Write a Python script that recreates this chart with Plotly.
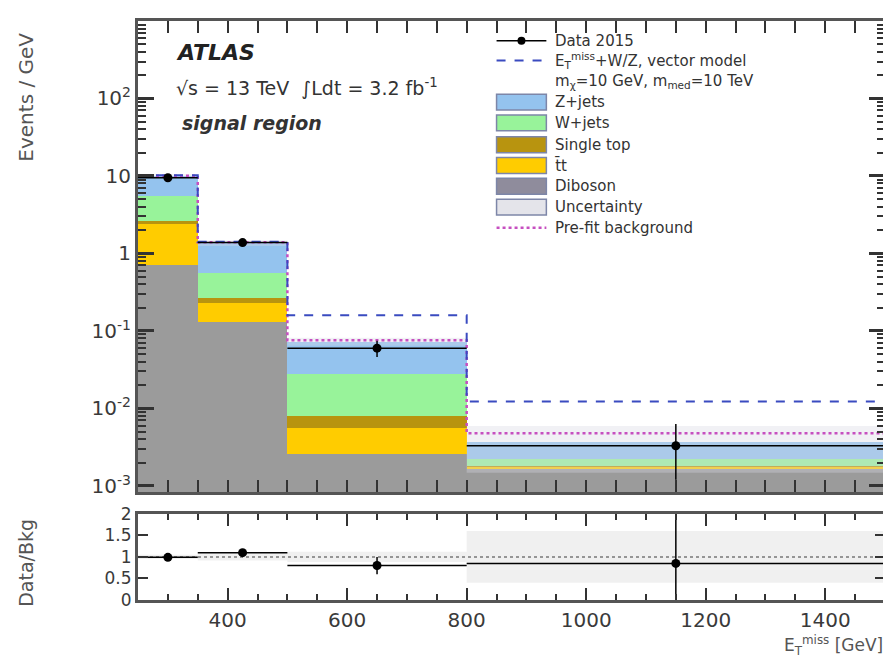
import plotly.graph_objects as go

# ---------------- data ----------------
bin_edges = [250, 350, 500, 800, 1500]
diboson = [0.70, 0.13, 0.0026, 0.00170]
ttbar = [1.70, 0.10, 0.0030, 0.00008]
single_top = [0.25, 0.04, 0.0025, 0.00005]
w_jets = [2.85, 0.29, 0.0199, 0.00037]
z_jets = [4.50, 0.80, 0.0450, 0.00150]
bkg_unc_rel = [0.05, 0.08, 0.12, 0.60]
data_vals = [9.5, 1.38, 0.060, 0.0033]
data_err_up = [0.31, 0.10, 0.015, 0.0030]
data_err_dn = [0.31, 0.10, 0.014, 0.0021]
signal_vals = [10.2, 1.42, 0.160, 0.0123]
prefit_vals = [10.1, 1.40, 0.076, 0.0048]
ratio_vals = [0.99, 1.10, 0.80, 0.85]
ratio_err = [0.03, 0.07, 0.20, 1.30]
main_tickvals = [1e-3, 1e-2, 1e-1, 1, 10, 100]
main_ticktext = ["10<sup>-3</sup>", "10<sup>-2</sup>", "10<sup>-1</sup>", "1", "10", "10<sup>2</sup>"]
ratio_tickvals = [0, 0.5, 1, 1.5, 2]
ratio_ticktext = ["0", "0.5", "1", "1.5", "2"]
x_tickvals = [400, 600, 800, 1000, 1200, 1400]
minor_log_ticks = [m * 10.0 ** e for e in range(-3, 3) for m in range(2, 10)]

colors = {
    "Diboson": "#9b9b9b",
    "tt": "#ffcc00",
    "Single top": "#b8940f",
    "W+jets": "#98f39a",
    "Z+jets": "#94c3ee",
}

centers = [(a + b) / 2 for a, b in zip(bin_edges[:-1], bin_edges[1:])]
widths = [b - a for a, b in zip(bin_edges[:-1], bin_edges[1:])]
half = [w / 2 for w in widths]

def step(vals):
    return list(vals) + [vals[-1]]

total = [sum(v) for v in zip(diboson, ttbar, single_top, w_jets, z_jets)]
unc_lo = [t * (1 - r) for t, r in zip(total, bkg_unc_rel)]
unc_hi = [t * (1 + r) for t, r in zip(total, bkg_unc_rel)]

fig = go.Figure()

for name, vals, col in [("Diboson", diboson, colors["Diboson"]),
                        ("tt", ttbar, colors["tt"]),
                        ("Single top", single_top, colors["Single top"]),
                        ("W+jets", w_jets, colors["W+jets"]),
                        ("Z+jets", z_jets, colors["Z+jets"])]:
    fig.add_trace(go.Bar(x=centers, y=vals, width=widths, marker=dict(color=col, line=dict(width=0)),
                         showlegend=False, xaxis="x", yaxis="y"))

fig.add_trace(go.Scatter(x=bin_edges, y=step(unc_lo), mode="lines", line=dict(width=0, shape="hv"),
                         showlegend=False, xaxis="x", yaxis="y"))
fig.add_trace(go.Scatter(x=bin_edges, y=step(unc_hi), mode="lines", line=dict(width=0, shape="hv"),
                         fill="tonexty", fillcolor="rgba(215,215,225,0.35)", showlegend=False,
                         xaxis="x", yaxis="y"))
fig.add_trace(go.Scatter(x=bin_edges, y=step(prefit_vals), mode="lines",
                         line=dict(color="#c64fc0", width=2.5, dash="dot", shape="hv"),
                         showlegend=False, xaxis="x", yaxis="y"))
fig.add_trace(go.Scatter(x=bin_edges, y=step(signal_vals), mode="lines",
                         line=dict(color="#3a4bc0", width=2, dash="dash", shape="hv"),
                         showlegend=False, xaxis="x", yaxis="y"))
fig.add_trace(go.Scatter(x=centers, y=data_vals, mode="markers",
                         marker=dict(color="black", size=9),
                         error_y=dict(type="data", array=data_err_up, arrayminus=data_err_dn,
                                      color="black", thickness=1.5, width=0),
                         error_x=dict(type="data", array=half, color="black", thickness=1.5, width=0),
                         showlegend=False, xaxis="x", yaxis="y"))
# empty trace that carries the minor-tick overlay axis
fig.add_trace(go.Scatter(x=[], y=[], mode="lines", showlegend=False, hoverinfo="skip",
                         xaxis="x", yaxis="y3"))

r_lo = [1 - r for r in bkg_unc_rel]
r_hi = [1 + r for r in bkg_unc_rel]
fig.add_trace(go.Scatter(x=bin_edges, y=step(r_lo), mode="lines", line=dict(width=0, shape="hv"),
                         showlegend=False, xaxis="x2", yaxis="y2"))
fig.add_trace(go.Scatter(x=bin_edges, y=step(r_hi), mode="lines", line=dict(width=0, shape="hv"),
                         fill="tonexty", fillcolor="rgba(200,200,200,0.28)", showlegend=False,
                         xaxis="x2", yaxis="y2"))
fig.add_trace(go.Scatter(x=[bin_edges[0], bin_edges[-1]], y=[1, 1], mode="lines",
                         line=dict(color="#777777", width=1.5, dash="dot"),
                         showlegend=False, xaxis="x2", yaxis="y2"))
fig.add_trace(go.Scatter(x=centers, y=ratio_vals, mode="markers",
                         marker=dict(color="black", size=9),
                         error_y=dict(type="data", array=ratio_err, color="black", thickness=1.5, width=0),
                         error_x=dict(type="data", array=half, color="black", thickness=1.5, width=0),
                         showlegend=False, xaxis="x2", yaxis="y2"))

# page body has an 8px margin -> figure is offset by OFF in the screenshot
OFF = 8
W, H = 891 - OFF, 667 - OFF
ml, mr, mt, mb = 138 - OFF, 3, 15 - OFF, 67
pw, ph = W - ml - mr, H - mt - mb

def px(xr):  # reference-picture pixel -> paper x
    return (xr - OFF - ml) / pw

def py(yr):  # reference-picture pixel -> paper y
    return (H - mb - (yr - OFF)) / ph

FONT = "DejaVu Sans, Liberation Sans, Arial"
axcol = "#555555"
tkcol = "#333333"
tickfont = dict(family=FONT, size=20, color="#3a3a3a")
main_range = [-3.08, 3.0]
main_domain = [py(491), 1]

fig.update_layout(
    width=W, height=H, margin=dict(l=ml, r=mr, t=mt, b=mb),
    paper_bgcolor="white", plot_bgcolor="white", barmode="stack", bargap=0,
    font=dict(family=FONT, color="#222222"),
    xaxis=dict(domain=[0, 1], range=[250, 1500], anchor="y", showticklabels=False,
               tickvals=x_tickvals, ticks="inside", ticklen=12, tickwidth=2, tickcolor=tkcol,
               minor=dict(dtick=50, ticks="inside", ticklen=6, tickcolor=tkcol),
               showline=True, linecolor=axcol, linewidth=3, mirror="allticks", showgrid=False,
               zeroline=False),
    yaxis=dict(domain=main_domain, type="log", range=main_range, anchor="x",
               tickvals=main_tickvals, ticktext=main_ticktext, tickfont=tickfont,
               ticks="inside", ticklen=16, tickwidth=2.5, tickcolor=tkcol,
               showline=True, linecolor=axcol, linewidth=3, mirror="allticks", showgrid=False,
               zeroline=False),
    yaxis3=dict(domain=main_domain, type="log", range=main_range, overlaying="y", anchor="x",
                side="left", tickvals=minor_log_ticks, showticklabels=False,
                ticks="inside", ticklen=8, tickwidth=2, tickcolor=tkcol,
                showline=False, mirror="allticks", showgrid=False, zeroline=False),
    xaxis2=dict(domain=[0, 1], range=[250, 1500], anchor="y2", tickvals=x_tickvals,
                tickfont=tickfont, ticks="inside", ticklen=12, tickwidth=2, tickcolor=tkcol,
                minor=dict(dtick=50, ticks="inside", ticklen=6, tickcolor=tkcol),
                showline=True, linecolor=axcol, linewidth=3, mirror="allticks", showgrid=False,
                zeroline=False),
    yaxis2=dict(domain=[0, py(513)], range=[0, 2], anchor="x2",
                tickvals=ratio_tickvals, ticktext=ratio_ticktext,
                tickfont=dict(family=FONT, size=17, color="#3a3a3a"),
                ticks="inside", ticklen=10, tickwidth=2, tickcolor=tkcol,
                showline=True, linecolor=axcol, linewidth=3, mirror="allticks", showgrid=False,
                zeroline=False),
)

ann = []
ann.append(dict(text="Events / GeV", x=px(26), y=py(92), xref="paper", yref="paper",
                xanchor="center", yanchor="middle",
                textangle=-90, showarrow=False, font=dict(size=20, color="#555555")))
ann.append(dict(text="Data/Bkg", x=px(26), y=py(562), xref="paper", yref="paper",
                xanchor="center", yanchor="middle",
                textangle=-90, showarrow=False, font=dict(size=19, color="#555555")))
ann.append(dict(text="E<sub>T</sub><sup>miss</sup> [GeV]", x=px(888), y=py(646), xref="paper",
                yref="paper", xanchor="right", yanchor="middle", showarrow=False,
                font=dict(size=17, color="#555555")))
ann.append(dict(text="<b><i>ATLAS</i></b>", x=px(174), y=py(47), xref="paper", yref="paper",
                xanchor="left", yanchor="middle", showarrow=False, font=dict(size=22, color="#222222")))
ann.append(dict(text="√s = 13 TeV\u00a0\u00a0∫Ldt = 3.2 fb<sup>-1</sup>", x=px(174), y=py(82),
                xref="paper", yref="paper", xanchor="left", yanchor="middle", showarrow=False,
                font=dict(size=19, color="#333333")))
ann.append(dict(text="<b><i>signal region</i></b>", x=px(180), y=py(118), xref="paper", yref="paper",
                xanchor="left", yanchor="middle", showarrow=False, font=dict(size=19, color="#333333")))

leg_rows = [
    ("Data 2015", "data", None),
    ("E<sub>T</sub><sup>miss</sup>+W/Z, vector model", "signal", None),
    ("m<sub>χ</sub>=10 GeV, m<sub>med</sub>=10 TeV", None, None),
    ("Z+jets", "box", colors["Z+jets"]),
    ("W+jets", "box", colors["W+jets"]),
    ("Single top", "box", colors["Single top"]),
    ("t̄t", "box", colors["tt"]),
    ("Diboson", "box", "#8f8c9c"),
    ("Uncertainty", "box", "#e4e4ea"),
    ("Pre-fit background", "prefit", None),
]
row_y = [35, 55, 76, 97, 118, 140, 161, 182, 203, 224]
shapes = []
for (label, kind, col), yy in zip(leg_rows, row_y):
    ann.append(dict(text=label, x=px(555), y=py(yy), xref="paper", yref="paper", xanchor="left",
                    yanchor="middle", showarrow=False, font=dict(size=15, color="#333333")))
    if kind == "box":
        shapes.append(dict(type="rect", xref="paper", yref="paper", x0=px(498), x1=px(548),
                           y0=py(yy + 8), y1=py(yy - 8), fillcolor=col,
                           line=dict(color="#7d86a8", width=1.5)))
    elif kind == "data":
        shapes.append(dict(type="line", xref="paper", yref="paper", x0=px(498), x1=px(548),
                           y0=py(yy), y1=py(yy), line=dict(color="black", width=1.5)))
        shapes.append(dict(type="circle", xref="paper", yref="paper", x0=px(519), x1=px(527),
                           y0=py(yy + 4), y1=py(yy - 4), fillcolor="black", line=dict(width=0)))
    elif kind == "signal":
        shapes.append(dict(type="line", xref="paper", yref="paper", x0=px(498), x1=px(548),
                           y0=py(yy), y1=py(yy), line=dict(color="#3a4bc0", width=2, dash="dash")))
    elif kind == "prefit":
        shapes.append(dict(type="line", xref="paper", yref="paper", x0=px(498), x1=px(548),
                           y0=py(yy), y1=py(yy), line=dict(color="#c64fc0", width=2.5, dash="dot")))

fig.update_layout(annotations=ann, shapes=shapes)
fig.write_html("out.html")
